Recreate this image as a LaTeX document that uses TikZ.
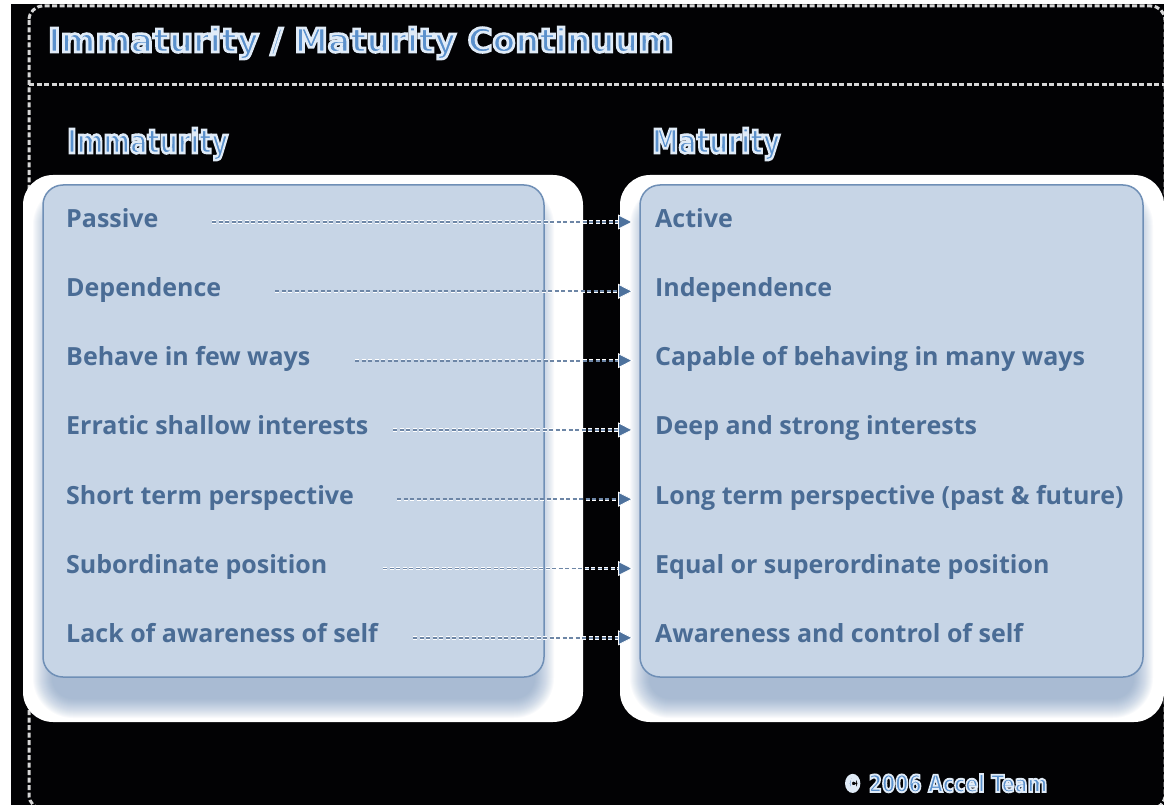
\documentclass[tikz,border=0pt]{standalone}
\usepackage{fontspec}
\usepackage{graphicx}
\setmainfont{Open Sans}
\newfontfamily\pixfont{DejaVu Sans}
\usetikzlibrary{arrows.meta,calc}
\definecolor{bgblack}{HTML}{020204}
\definecolor{boxfill}{HTML}{C7D5E6}
\definecolor{boxline}{HTML}{6F8FB6}
\definecolor{txtblue}{HTML}{4A6C95}
\definecolor{titleblue}{HTML}{5A90CC}
\definecolor{shadowblue}{HTML}{6E90BC}
\definecolor{dashblue}{HTML}{6D86A6}
\definecolor{tipblue}{HTML}{4E729D}
\definecolor{borderdash}{HTML}{D6D6D6}
\newcommand{\outlinedtext}[1]{\special{pdf:literal direct 2 Tr 0.8 w 0.88 0.92 0.97 RG}#1\special{pdf:literal direct 0 Tr 0.4 w}}
\tikzset{
  boxstyle/.style={draw=boxline, fill=boxfill, line width=1.5pt, rounded corners=20pt, inner sep=0pt},
  glowstyle/.style={fill=white, rounded corners=30pt},
  rowtext/.style={anchor=base west, inner sep=0pt, text=txtblue, font=\fontsize{25}{30}\selectfont\bfseries},
  dashunder/.style={draw=white, line width=3.4pt, dash pattern=on 4pt off 2.5pt},
  dashtop/.style={draw=dashblue, line width=1.8pt, dash pattern=on 4pt off 2.5pt},
  arrowtip/.style={-{Triangle[length=15pt,width=15pt,fill=tipblue,color=white,line width=0.8pt]}},
  bordstyle/.style={draw=borderdash, line width=3pt, dash pattern=on 5pt off 2.5pt},
  pixtxt/.style={anchor=base west, inner sep=0pt, text=titleblue}
}
\begin{document}
\begin{tikzpicture}[x=1pt,y=-1pt]
\useasboundingbox (0,0) rectangle (1164,805);
\fill[white] (0,0) rectangle (1164,805);
\fill[bgblack] (11,4) rectangle (1164,805);
% border
\begin{scope}
\clip (0,0) rectangle (1164,805);
\draw[bordstyle, rounded corners=14pt] (29,6) rectangle (1165,809);
\end{scope}
\coordinate (divL) at (29,85);
\coordinate (divR) at (1164,85);
\draw[bordstyle] (divL) -- (divR);
% title and headings
\node[pixtxt] (title) at (48,52) {\resizebox{625pt}{25pt}{\pixfont\bfseries\outlinedtext{Immaturity / Maturity Continuum}}};
\node[pixtxt] (hl) at (67,153) {\resizebox{161pt}{25pt}{\pixfont\bfseries\outlinedtext{Immaturity}}};
\node[pixtxt] (hr) at (652,153) {\resizebox{128pt}{25pt}{\pixfont\bfseries\outlinedtext{Maturity}}};
% glows
\fill[glowstyle] (23,175) rectangle (583,722);
\fill[glowstyle] (620,175) rectangle (1164,722);
\begin{scope}
\clip[rounded corners=30pt] (23,175) rectangle (583,722);
\foreach \k in {1,...,20}{
  \fill[shadowblue, opacity=0.04, rounded corners={20pt+\k pt}] ({53-\k},{205-\k}) rectangle ({534+\k},{698+\k});
}
\end{scope}
\begin{scope}
\clip[rounded corners=30pt] (620,175) rectangle (1164,722);
\foreach \k in {1,...,20}{
  \fill[shadowblue, opacity=0.04, rounded corners={20pt+\k pt}] ({650-\k},{205-\k}) rectangle ({1133+\k},{698+\k});
}
\end{scope}
% boxes
\node[boxstyle, minimum width=501pt, minimum height=492pt] (lbox) at (293.5,431) {};
\node[boxstyle, minimum width=503pt, minimum height=492pt] (rbox) at (891.5,431) {};
% rows
\foreach \i/\yb/\sx/\lt/\rt in {
  1/227/212/Passive/Active,
  2/296.3/275/Dependence/Independence,
  3/365.6/355/Behave in few ways/Capable of behaving in many ways,
  4/434.9/393/Erratic shallow interests/Deep and strong interests,
  5/504.2/397/Short term perspective/Long term perspective (past \& future),
  6/573.5/383/Subordinate position/Equal or superordinate position,
  7/642.8/413/Lack of awareness of self/Awareness and control of self}{
  \node[rowtext] (l\i) at (66,\yb) {\lt};
  \node[rowtext] (r\i) at (655,\yb) {\rt};
  \coordinate (s\i) at (\sx,{\yb-5});
  \draw[dashunder, shorten >=37pt] (s\i) -- (s\i -| r\i.west);
  \draw[dashtop, arrowtip, shorten >=22pt] (s\i) -- (s\i -| r\i.west);
}
% copyright
\node[pixtxt] (copy) at (843,792) {\resizebox{204pt}{18pt}{\pixfont\bfseries\outlinedtext{\textcopyright\ 2006 Accel Team}}};
\end{tikzpicture}
\end{document}
